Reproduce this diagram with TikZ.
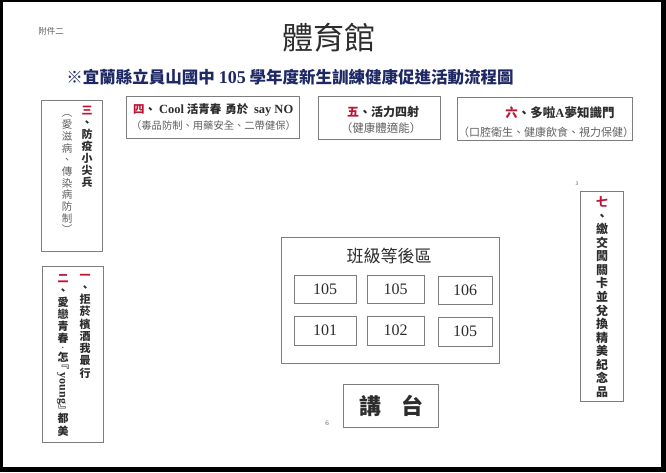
\documentclass[tikz,border=0pt]{standalone}
\usepackage{fontspec}
\usepackage{graphicx}
\setmainfont{Noto Sans CJK TC}
\newfontfamily\lat{Liberation Serif}
\definecolor{redn}{RGB}{190,20,50}
\definecolor{navy}{RGB}{30,40,100}
\definecolor{txt}{RGB}{45,45,45}
\definecolor{txtb}{RGB}{95,95,95}
\definecolor{boxgray}{RGB}{125,125,125}
\newcommand{\fs}[1]{\fontsize{#1pt}{#1pt}\selectfont}
\tikzset{
  every node/.style={inner sep=0pt, outer sep=0pt, text=txt},
  boxn/.style={draw=boxgray, line width=0.9pt, rectangle},
  vch/.style={font=\fs{11}\bfseries, text height=9.68pt, text depth=1.32pt},
  vchb/.style={font=\fs{12}\bfseries, text height=10.56pt, text depth=1.44pt},
  vchl/.style={font=\fs{10.5}, text=txtb, text height=9.24pt, text depth=1.26pt},
}
\begin{document}
\begin{tikzpicture}[x=1pt,y=-1pt]
\useasboundingbox (0,0) rectangle (666,472);
\fill[black] (0,0) rectangle (666,472);
\fill[white] (3,2) rectangle (661,467);

% header
\node[font=\fs{8.5}, text=txtb] (annex) at (51,31) {附件二};
\node[font=\fs{31}] (title) at (329,38) {體育館};
\node[font=\fs{16.5}\bfseries, text=navy] (subtitle) at (290,77)
  {※宜蘭縣立員山國中 {\lat\fs{18}\bfseries 105} 學年度新生訓練健康促進活動流程圖};

% box 3
\node[boxn, minimum width=61pt, minimum height=151pt] (b3) at (71.5,175.5) {};
\node[vch, text=redn] (b3n) at (87,110) {三};
\foreach \c [count=\i from 1] in {、,防,疫,小,尖,兵}
  \node[vch] (b3r\i) at (87,110+12*\i) {\c};
\foreach \c [count=\i from 0] in {︵,愛,滋,病,、,傳,染,病,防,制,︶}
  \node[vchl] (b3l\i) at (67,113+11.7*\i) {\c};

% box 4
\node[boxn, minimum width=173pt, minimum height=42pt] (b4) at (212.5,117) {};
\node[font=\fs{11.5}\bfseries, anchor=west] (b4a) at (133,110)
  {\textcolor{redn}{四}、{\lat\fs{12.5} Cool} 活青春\hspace{4pt}勇於 {\lat\fs{12.5} say NO}};
\node[font=\fs{10.3}, text=txtb] (b4b) at (213.5,126) {（毒品防制、用藥安全、二帶健保）};

% box 5
\node[boxn, minimum width=122pt, minimum height=43pt] (b5) at (379,117.5) {};
\node[font=\fs{12}\bfseries] (b5a) at (383,112) {\textcolor{redn}{五}、活力四射};
\node[font=\fs{11.5}, text=txtb] (b5b) at (381,128) {（健康體適能）};

% box 6
\node[boxn, minimum width=175pt, minimum height=43pt] (b6) at (544.5,118.5) {};
\node[font=\fs{12.5}\bfseries] (b6a) at (560,113) {\textcolor{redn}{六}、多啦{\lat A}夢知識門};
\node[font=\fs{11}, text=txtb] (b6b) at (546,132) {（口腔衛生、健康飲食、視力保健）};

% box 7
\node[font=\fs{5}, text=txtb] (mark3) at (577,184) {3};
\node[boxn, minimum width=43pt, minimum height=210pt] (b7) at (601.5,296) {};
\node[vchb, text=redn] (b7n) at (602,202) {七};
\foreach \c [count=\i from 1] in {、,繳,交,闖,關,卡,並,兌,換,精,美,紀,念,品}
  \node[vchb] (b7c\i) at (602,202+13.57*\i) {\c};

% box 1/2
\node[boxn, minimum width=61pt, minimum height=176pt] (b12) at (72.5,354) {};
\node[vch, text=redn] (b1n) at (85,275) {一};
\foreach \c [count=\i from 1] in {、,拒,菸,檳,酒,我,最,行}
  \node[vch] (b1c\i) at (85,275+12.25*\i) {\c};
\node[vch, text=redn] (b2n) at (63,278) {二};
\foreach \c [count=\i from 1] in {、,愛,戀,青,春}
  \node[vch] (b2c\i) at (63,278+12*\i) {\c};
\node[font=\fs{6}\bfseries] (b2dot) at (63,347.5) {.};
\node[vch] (b2z) at (63,357) {怎};
\node[font=\fs{11}\bfseries] (b2y) at (63,387) {\rotatebox{-90}{『{\lat\fs{12} young}』}};
\node[vch] (b2d) at (63,418) {都};
\node[vch] (b2m) at (63,431) {美};

% waiting area
\node[boxn, minimum width=218pt, minimum height=126pt] (area) at (390,300) {};
\node[font=\fs{17}, text=txt] (areat) at (389,256) {班級等後區};
\node[boxn, minimum width=62pt, minimum height=28pt] (s11) at (325,289) {};
\node[boxn, minimum width=57pt, minimum height=28pt] (s12) at (395.5,289) {};
\node[boxn, minimum width=54pt, minimum height=28pt] (s13) at (465,290) {};
\node[boxn, minimum width=62pt, minimum height=29pt] (s21) at (325,330.5) {};
\node[boxn, minimum width=57pt, minimum height=29pt] (s22) at (395.5,330.5) {};
\node[boxn, minimum width=54pt, minimum height=29pt] (s23) at (465,331.5) {};
\foreach \n/\t in {s11/105,s12/105,s13/106,s21/101,s22/102,s23/105}
  \node[font=\lat\fs{16}] at (\n) {\t};

% podium
\node[boxn, minimum width=95pt, minimum height=43pt] (podium) at (390.5,405.5) {};
\node[font=\fs{22}\bfseries] (podiumt) at (391,406) {講\hspace{20pt}台};
\node[font=\lat\fs{7}, text=txtb] (pg6) at (327,423) {6};
\end{tikzpicture}
\end{document}
